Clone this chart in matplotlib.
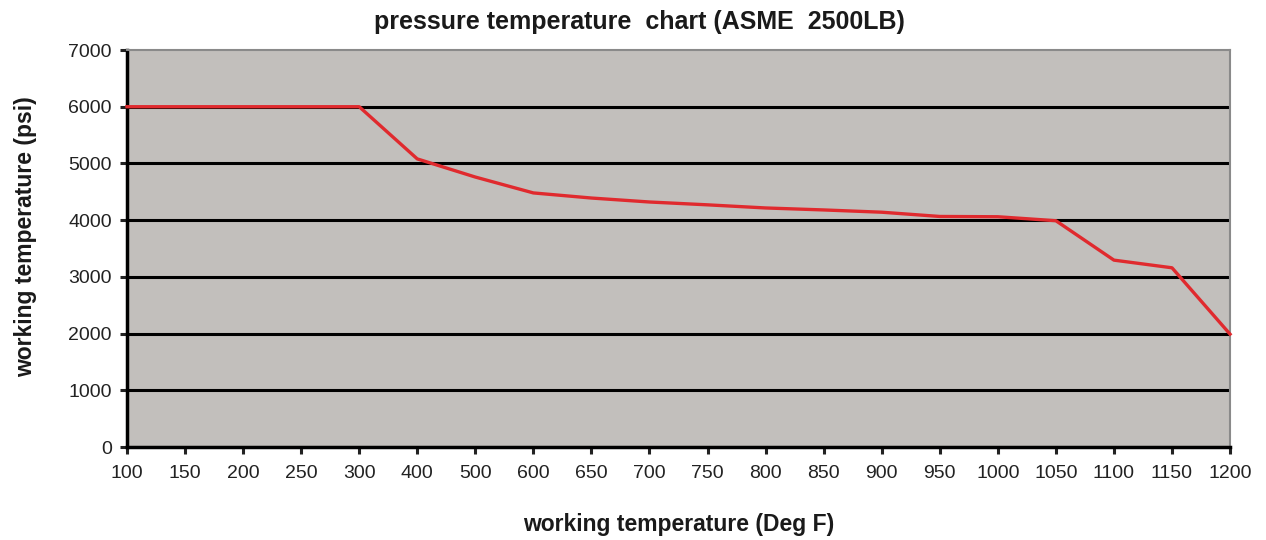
import numpy as np
import matplotlib
matplotlib.use("Agg")
import matplotlib.pyplot as plt

# temperature categories (Deg F) and rated pressure (psi)
temps = ["100", "150", "200", "250", "300", "400", "500", "600", "650", "700",
         "750", "800", "850", "900", "950", "1000", "1050", "1100", "1150", "1200"]
pressure = [6000, 6000, 6000, 6000, 6000, 5080, 4760, 4480, 4390, 4320,
            4270, 4215, 4180, 4140, 4065, 4060, 3990, 3295, 3160, 1990]
yticks = [0, 1000, 2000, 3000, 4000, 5000, 6000, 7000]

plt.rcParams["font.family"] = ["Liberation Sans", "DejaVu Sans"]

fig = plt.figure(figsize=(12.66, 5.4), dpi=100)
ax = fig.add_axes([0.1003, 0.1722, 0.8713, 0.7352])

x = np.arange(len(temps))
ax.set_facecolor("#c2bfbc")
for y in yticks[1:-1]:
    ax.axhline(y, color="black", lw=2.2, zorder=1)
ax.plot(x, pressure, color="#e02a2e", lw=2.4, zorder=3, clip_on=False)

ax.set_xlim(0, len(temps) - 1)
ax.set_ylim(0, 7000)
ax.set_xticks(x)
ax.set_xticklabels(temps)
ax.set_yticks(yticks)
ax.tick_params(axis="both", direction="out", length=5, width=2.2, labelsize=14,
               colors="#222222")
ax.tick_params(axis="x", pad=8)
ax.tick_params(axis="y", pad=6)

for side in ["left", "bottom"]:
    ax.spines[side].set_color("black")
    ax.spines[side].set_linewidth(2.5)
for side in ["top", "right"]:
    ax.spines[side].set_color("#8a8a8a")
    ax.spines[side].set_linewidth(1.5)

fig.text(0.505, 0.96, "pressure temperature  chart (ASME  2500LB)", fontsize=18,
         fontweight="bold", ha="center", va="center", color="#1a1a1a")
ax.set_xlabel("working temperature (Deg F)", fontsize=16.5, fontweight="bold", color="#1a1a1a")
ax.set_ylabel("working temperature (psi)", fontsize=16.5, fontweight="bold", color="#1a1a1a")
ax.xaxis.set_label_coords(0.5, -0.166)
ax.yaxis.set_label_coords(-0.0816, 0.53)

plt.savefig("out.png", dpi=100)
